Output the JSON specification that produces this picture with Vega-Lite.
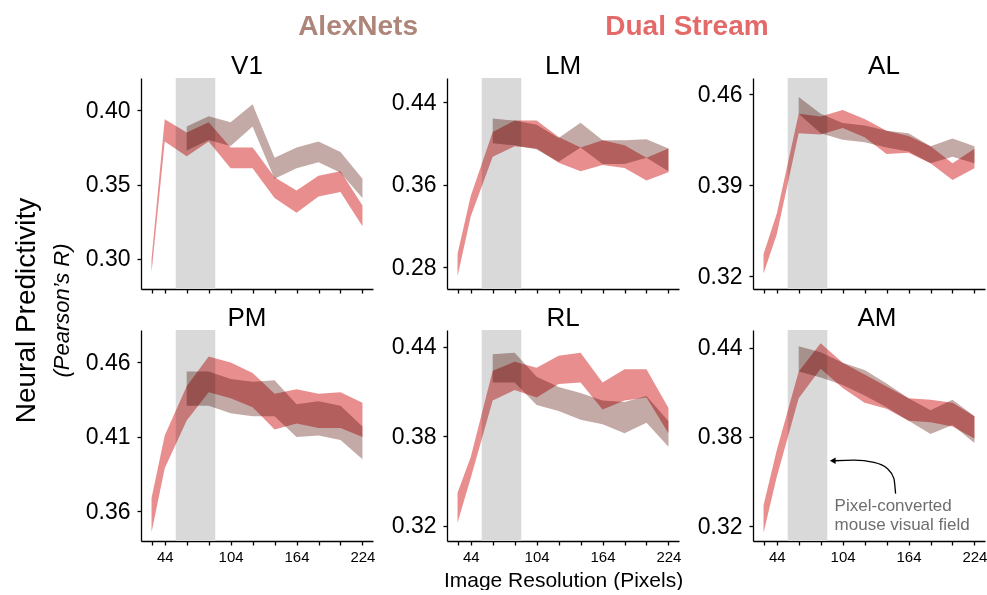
{
"$schema": "https://vega.github.io/schema/vega-lite/v6.json",
"background": "white",
"padding": {"left": 13, "top": 13, "right": 0, "bottom": 0},
"config": {
  "font": "Liberation Sans",
  "view": {"stroke": null},
  "axis": {"domainColor": "#000", "tickColor": "#000", "labelColor": "#000", "titleColor": "#000", "domainWidth": 1.3, "tickWidth": 1.3, "grid": false, "labelFont": "Liberation Sans", "titleFont": "Liberation Sans", "titleFontWeight": "normal", "labelFlush": false, "labelOverlap": false},
  "title": {"fontSize": 26, "fontWeight": "normal", "color": "#000", "baseline": "alphabetic", "offset": -1, "font": "Liberation Sans"}
},
"datasets": {
  "models": [{"model": "AlexNets"}, {"model": "Dual Stream"}],
  "field": [{"start": 54, "end": 90}],
  "arrow": [
    {"i": 0, "x": 152.2, "y": 0.3419},
    {"i": 1, "x": 150.7, "y": 0.352},
    {"i": 2, "x": 144.6, "y": 0.3588},
    {"i": 3, "x": 132.5, "y": 0.3629},
    {"i": 4, "x": 114.3, "y": 0.3644},
    {"i": 5, "x": 96.5, "y": 0.364}
  ],
  "arrowhead": [{"x": 95.0, "y": 0.364}],
  "note": [
    {"text": "Pixel-converted", "x": 96.7, "y": 0.3335},
    {"text": "mouse visual field", "x": 96.7, "y": 0.3205}
  ],
  "bands": [
    {"area": "V1", "model": "Dual Stream", "res": 32, "lo": 0.291, "hi": 0.300},
    {"area": "V1", "model": "Dual Stream", "res": 44, "lo": 0.379, "hi": 0.394},
    {"area": "V1", "model": "Dual Stream", "res": 64, "lo": 0.369, "hi": 0.385},
    {"area": "V1", "model": "Dual Stream", "res": 84, "lo": 0.379, "hi": 0.392},
    {"area": "V1", "model": "Dual Stream", "res": 104, "lo": 0.361, "hi": 0.375},
    {"area": "V1", "model": "Dual Stream", "res": 124, "lo": 0.361, "hi": 0.375},
    {"area": "V1", "model": "Dual Stream", "res": 144, "lo": 0.341, "hi": 0.355},
    {"area": "V1", "model": "Dual Stream", "res": 164, "lo": 0.331, "hi": 0.346},
    {"area": "V1", "model": "Dual Stream", "res": 184, "lo": 0.342, "hi": 0.356},
    {"area": "V1", "model": "Dual Stream", "res": 204, "lo": 0.345, "hi": 0.359},
    {"area": "V1", "model": "Dual Stream", "res": 224, "lo": 0.322, "hi": 0.336},
    {"area": "V1", "model": "AlexNets", "res": 64, "lo": 0.373, "hi": 0.389},
    {"area": "V1", "model": "AlexNets", "res": 84, "lo": 0.380, "hi": 0.396},
    {"area": "V1", "model": "AlexNets", "res": 104, "lo": 0.376, "hi": 0.392},
    {"area": "V1", "model": "AlexNets", "res": 124, "lo": 0.389, "hi": 0.404},
    {"area": "V1", "model": "AlexNets", "res": 144, "lo": 0.354, "hi": 0.368},
    {"area": "V1", "model": "AlexNets", "res": 164, "lo": 0.361, "hi": 0.375},
    {"area": "V1", "model": "AlexNets", "res": 184, "lo": 0.365, "hi": 0.379},
    {"area": "V1", "model": "AlexNets", "res": 204, "lo": 0.358, "hi": 0.372},
    {"area": "V1", "model": "AlexNets", "res": 224, "lo": 0.341, "hi": 0.354},

    {"area": "LM", "model": "Dual Stream", "res": 32, "lo": 0.271, "hi": 0.293},
    {"area": "LM", "model": "Dual Stream", "res": 44, "lo": 0.329, "hi": 0.349},
    {"area": "LM", "model": "Dual Stream", "res": 64, "lo": 0.387, "hi": 0.411},
    {"area": "LM", "model": "Dual Stream", "res": 84, "lo": 0.397, "hi": 0.422},
    {"area": "LM", "model": "Dual Stream", "res": 104, "lo": 0.395, "hi": 0.422},
    {"area": "LM", "model": "Dual Stream", "res": 124, "lo": 0.381, "hi": 0.406},
    {"area": "LM", "model": "Dual Stream", "res": 144, "lo": 0.373, "hi": 0.396},
    {"area": "LM", "model": "Dual Stream", "res": 164, "lo": 0.379, "hi": 0.403},
    {"area": "LM", "model": "Dual Stream", "res": 184, "lo": 0.376, "hi": 0.398},
    {"area": "LM", "model": "Dual Stream", "res": 204, "lo": 0.364, "hi": 0.386},
    {"area": "LM", "model": "Dual Stream", "res": 224, "lo": 0.372, "hi": 0.395},
    {"area": "LM", "model": "AlexNets", "res": 64, "lo": 0.400, "hi": 0.424},
    {"area": "LM", "model": "AlexNets", "res": 84, "lo": 0.398, "hi": 0.422},
    {"area": "LM", "model": "AlexNets", "res": 104, "lo": 0.394, "hi": 0.418},
    {"area": "LM", "model": "AlexNets", "res": 124, "lo": 0.382, "hi": 0.405},
    {"area": "LM", "model": "AlexNets", "res": 144, "lo": 0.396, "hi": 0.420},
    {"area": "LM", "model": "AlexNets", "res": 164, "lo": 0.380, "hi": 0.403},
    {"area": "LM", "model": "AlexNets", "res": 184, "lo": 0.380, "hi": 0.403},
    {"area": "LM", "model": "AlexNets", "res": 204, "lo": 0.386, "hi": 0.404},
    {"area": "LM", "model": "AlexNets", "res": 224, "lo": 0.373, "hi": 0.395},

    {"area": "AL", "model": "Dual Stream", "res": 32, "lo": 0.322, "hi": 0.337},
    {"area": "AL", "model": "Dual Stream", "res": 44, "lo": 0.352, "hi": 0.368},
    {"area": "AL", "model": "Dual Stream", "res": 64, "lo": 0.430, "hi": 0.445},
    {"area": "AL", "model": "Dual Stream", "res": 84, "lo": 0.429, "hi": 0.443},
    {"area": "AL", "model": "Dual Stream", "res": 104, "lo": 0.434, "hi": 0.448},
    {"area": "AL", "model": "Dual Stream", "res": 124, "lo": 0.427, "hi": 0.441},
    {"area": "AL", "model": "Dual Stream", "res": 144, "lo": 0.414, "hi": 0.432},
    {"area": "AL", "model": "Dual Stream", "res": 164, "lo": 0.415, "hi": 0.428},
    {"area": "AL", "model": "Dual Stream", "res": 184, "lo": 0.407, "hi": 0.420},
    {"area": "AL", "model": "Dual Stream", "res": 204, "lo": 0.394, "hi": 0.407},
    {"area": "AL", "model": "Dual Stream", "res": 224, "lo": 0.403, "hi": 0.418},
    {"area": "AL", "model": "AlexNets", "res": 64, "lo": 0.445, "hi": 0.458},
    {"area": "AL", "model": "AlexNets", "res": 84, "lo": 0.430, "hi": 0.445},
    {"area": "AL", "model": "AlexNets", "res": 104, "lo": 0.425, "hi": 0.438},
    {"area": "AL", "model": "AlexNets", "res": 124, "lo": 0.423, "hi": 0.436},
    {"area": "AL", "model": "AlexNets", "res": 144, "lo": 0.419, "hi": 0.432},
    {"area": "AL", "model": "AlexNets", "res": 164, "lo": 0.416, "hi": 0.430},
    {"area": "AL", "model": "AlexNets", "res": 184, "lo": 0.407, "hi": 0.420},
    {"area": "AL", "model": "AlexNets", "res": 204, "lo": 0.412, "hi": 0.426},
    {"area": "AL", "model": "AlexNets", "res": 224, "lo": 0.407, "hi": 0.420},

    {"area": "PM", "model": "Dual Stream", "res": 32, "lo": 0.346, "hi": 0.369},
    {"area": "PM", "model": "Dual Stream", "res": 44, "lo": 0.389, "hi": 0.411},
    {"area": "PM", "model": "Dual Stream", "res": 64, "lo": 0.421, "hi": 0.444},
    {"area": "PM", "model": "Dual Stream", "res": 84, "lo": 0.440, "hi": 0.464},
    {"area": "PM", "model": "Dual Stream", "res": 104, "lo": 0.436, "hi": 0.460},
    {"area": "PM", "model": "Dual Stream", "res": 124, "lo": 0.430, "hi": 0.453},
    {"area": "PM", "model": "Dual Stream", "res": 144, "lo": 0.415, "hi": 0.439},
    {"area": "PM", "model": "Dual Stream", "res": 164, "lo": 0.419, "hi": 0.442},
    {"area": "PM", "model": "Dual Stream", "res": 184, "lo": 0.416, "hi": 0.439},
    {"area": "PM", "model": "Dual Stream", "res": 204, "lo": 0.416, "hi": 0.440},
    {"area": "PM", "model": "Dual Stream", "res": 224, "lo": 0.410, "hi": 0.433},
    {"area": "PM", "model": "AlexNets", "res": 64, "lo": 0.431, "hi": 0.454},
    {"area": "PM", "model": "AlexNets", "res": 84, "lo": 0.431, "hi": 0.454},
    {"area": "PM", "model": "AlexNets", "res": 104, "lo": 0.426, "hi": 0.449},
    {"area": "PM", "model": "AlexNets", "res": 124, "lo": 0.424, "hi": 0.447},
    {"area": "PM", "model": "AlexNets", "res": 144, "lo": 0.424, "hi": 0.448},
    {"area": "PM", "model": "AlexNets", "res": 164, "lo": 0.410, "hi": 0.432},
    {"area": "PM", "model": "AlexNets", "res": 184, "lo": 0.411, "hi": 0.434},
    {"area": "PM", "model": "AlexNets", "res": 204, "lo": 0.408, "hi": 0.431},
    {"area": "PM", "model": "AlexNets", "res": 224, "lo": 0.395, "hi": 0.417},

    {"area": "RL", "model": "Dual Stream", "res": 32, "lo": 0.322, "hi": 0.342},
    {"area": "RL", "model": "Dual Stream", "res": 44, "lo": 0.352, "hi": 0.366},
    {"area": "RL", "model": "Dual Stream", "res": 64, "lo": 0.404, "hi": 0.424},
    {"area": "RL", "model": "Dual Stream", "res": 84, "lo": 0.411, "hi": 0.430},
    {"area": "RL", "model": "Dual Stream", "res": 104, "lo": 0.406, "hi": 0.426},
    {"area": "RL", "model": "Dual Stream", "res": 124, "lo": 0.415, "hi": 0.434},
    {"area": "RL", "model": "Dual Stream", "res": 144, "lo": 0.416, "hi": 0.436},
    {"area": "RL", "model": "Dual Stream", "res": 164, "lo": 0.398, "hi": 0.416},
    {"area": "RL", "model": "Dual Stream", "res": 184, "lo": 0.404, "hi": 0.425},
    {"area": "RL", "model": "Dual Stream", "res": 204, "lo": 0.406, "hi": 0.425},
    {"area": "RL", "model": "Dual Stream", "res": 224, "lo": 0.382, "hi": 0.399},
    {"area": "RL", "model": "AlexNets", "res": 64, "lo": 0.416, "hi": 0.435},
    {"area": "RL", "model": "AlexNets", "res": 84, "lo": 0.416, "hi": 0.436},
    {"area": "RL", "model": "AlexNets", "res": 104, "lo": 0.401, "hi": 0.420},
    {"area": "RL", "model": "AlexNets", "res": 124, "lo": 0.397, "hi": 0.413},
    {"area": "RL", "model": "AlexNets", "res": 144, "lo": 0.391, "hi": 0.409},
    {"area": "RL", "model": "AlexNets", "res": 164, "lo": 0.388, "hi": 0.404},
    {"area": "RL", "model": "AlexNets", "res": 184, "lo": 0.382, "hi": 0.403},
    {"area": "RL", "model": "AlexNets", "res": 204, "lo": 0.389, "hi": 0.407},
    {"area": "RL", "model": "AlexNets", "res": 224, "lo": 0.373, "hi": 0.390},

    {"area": "AM", "model": "Dual Stream", "res": 32, "lo": 0.3155, "hi": 0.334},
    {"area": "AM", "model": "Dual Stream", "res": 44, "lo": 0.353, "hi": 0.371},
    {"area": "AM", "model": "Dual Stream", "res": 64, "lo": 0.406, "hi": 0.424},
    {"area": "AM", "model": "Dual Stream", "res": 84, "lo": 0.426, "hi": 0.443},
    {"area": "AM", "model": "Dual Stream", "res": 104, "lo": 0.413, "hi": 0.430},
    {"area": "AM", "model": "Dual Stream", "res": 124, "lo": 0.403, "hi": 0.422},
    {"area": "AM", "model": "Dual Stream", "res": 144, "lo": 0.399, "hi": 0.414},
    {"area": "AM", "model": "Dual Stream", "res": 164, "lo": 0.391, "hi": 0.406},
    {"area": "AM", "model": "Dual Stream", "res": 184, "lo": 0.390, "hi": 0.405},
    {"area": "AM", "model": "Dual Stream", "res": 204, "lo": 0.387, "hi": 0.403},
    {"area": "AM", "model": "Dual Stream", "res": 224, "lo": 0.379, "hi": 0.394},
    {"area": "AM", "model": "AlexNets", "res": 64, "lo": 0.424, "hi": 0.441},
    {"area": "AM", "model": "AlexNets", "res": 84, "lo": 0.420, "hi": 0.437},
    {"area": "AM", "model": "AlexNets", "res": 104, "lo": 0.415, "hi": 0.430},
    {"area": "AM", "model": "AlexNets", "res": 124, "lo": 0.408, "hi": 0.425},
    {"area": "AM", "model": "AlexNets", "res": 144, "lo": 0.400, "hi": 0.416},
    {"area": "AM", "model": "AlexNets", "res": 164, "lo": 0.391, "hi": 0.406},
    {"area": "AM", "model": "AlexNets", "res": 184, "lo": 0.382, "hi": 0.398},
    {"area": "AM", "model": "AlexNets", "res": 204, "lo": 0.388, "hi": 0.405},
    {"area": "AM", "model": "AlexNets", "res": 224, "lo": 0.376, "hi": 0.394}
  ]
},
"title": {"text": "Neural Predictivity", "subtitle": "(Pearson’s R)", "orient": "left", "anchor": "middle", "fontSize": 28, "fontWeight": "normal", "color": "#000", "subtitleFontSize": 22, "subtitleFontStyle": "italic", "subtitleColor": "#000", "subtitlePadding": 5, "offset": -16, "dx": -9, "baseline": "bottom", "font": "Liberation Sans", "subtitleFont": "Liberation Sans"},
"spacing": 41,
"bounds": "flush",
"vconcat": [
  {
    "width": 763, "height": 20,
    "data": {"name": "models"},
    "mark": {"type": "text", "fontSize": 28, "fontWeight": "bold", "baseline": "middle", "font": "Liberation Sans"},
    "encoding": {
      "x": {"field": "model", "type": "nominal", "scale": {"type": "point", "padding": 0.66}, "axis": null},
      "text": {"field": "model"},
      "color": {"field": "model", "type": "nominal", "scale": {"domain": ["AlexNets", "Dual Stream"], "range": ["#ae8579", "#e46a6a"]}, "legend": null}
    }
  },
  {
    "columns": 3,
    "spacing": {"row": 41, "column": 74},
    "bounds": "flush",
    "concat": [
      {
        "width": 232, "height": 211,
        "title": {"text": "V1", "dx": -10},
        "layer": [
          {"data": {"name": "field"}, "mark": {"type": "rect", "color": "#d9d9d9"},
           "encoding": {"x": {"field": "start", "type": "quantitative", "scale": {"domain": [22.4, 233.6], "nice": false, "zero": false}, "axis": {"values": [32,44,64,84,104,124,144,164,184,204,224], "labels": false, "title": null, "tickSize": 4}}, "x2": {"field": "end"}}},
          {"data": {"name": "bands"}, "transform": [{"filter": "datum.area === 'V1'"}], "mark": {"type": "area", "blend": "multiply"},
           "encoding": {"x": {"field": "res", "type": "quantitative", "axis": {"values": [32,44,64,84,104,124,144,164,184,204,224], "labels": false, "title": null, "tickSize": 4}},
             "y": {"field": "lo", "type": "quantitative", "scale": {"domain": [0.2798, 0.4217], "nice": false, "zero": false}, "axis": {"values": [0.30, 0.35, 0.40], "format": ".2f", "labelFontSize": 23, "tickSize": 4, "labelPadding": 7, "title": null}},
             "y2": {"field": "hi"},
             "fill": {"field": "model", "type": "nominal", "scale": {"domain": ["AlexNets", "Dual Stream"], "range": ["#c4aaa6", "#e88e8e"]}, "legend": null}}}
        ]
      },
      {
        "width": 232, "height": 211,
        "title": {"text": "LM"},
        "layer": [
          {"data": {"name": "field"}, "mark": {"type": "rect", "color": "#d9d9d9"},
           "encoding": {"x": {"field": "start", "type": "quantitative", "scale": {"domain": [22.4, 233.6], "nice": false, "zero": false}, "axis": {"values": [32,44,64,84,104,124,144,164,184,204,224], "labels": false, "title": null, "tickSize": 4}}, "x2": {"field": "end"}}},
          {"data": {"name": "bands"}, "transform": [{"filter": "datum.area === 'LM'"}], "mark": {"type": "area", "blend": "multiply"},
           "encoding": {"x": {"field": "res", "type": "quantitative", "axis": {"values": [32,44,64,84,104,124,144,164,184,204,224], "labels": false, "title": null, "tickSize": 4}},
             "y": {"field": "lo", "type": "quantitative", "scale": {"domain": [0.2587, 0.4633], "nice": false, "zero": false}, "axis": {"values": [0.28, 0.36, 0.44], "format": ".2f", "labelFontSize": 23, "tickSize": 4, "labelPadding": 7, "title": null}},
             "y2": {"field": "hi"},
             "fill": {"field": "model", "type": "nominal", "scale": {"domain": ["AlexNets", "Dual Stream"], "range": ["#c4aaa6", "#e88e8e"]}, "legend": null}}}
        ]
      },
      {
        "width": 232, "height": 211,
        "title": {"text": "AL", "dx": 15},
        "layer": [
          {"data": {"name": "field"}, "mark": {"type": "rect", "color": "#d9d9d9"},
           "encoding": {"x": {"field": "start", "type": "quantitative", "scale": {"domain": [22.4, 233.6], "nice": false, "zero": false}, "axis": {"values": [32,44,64,84,104,124,144,164,184,204,224], "labels": false, "title": null, "tickSize": 4}}, "x2": {"field": "end"}}},
          {"data": {"name": "bands"}, "transform": [{"filter": "datum.area === 'AL'"}], "mark": {"type": "area", "blend": "multiply"},
           "encoding": {"x": {"field": "res", "type": "quantitative", "axis": {"values": [32,44,64,84,104,124,144,164,184,204,224], "labels": false, "title": null, "tickSize": 4}},
             "y": {"field": "lo", "type": "quantitative", "scale": {"domain": [0.31, 0.4726], "nice": false, "zero": false}, "axis": {"values": [0.32, 0.39, 0.46], "format": ".2f", "labelFontSize": 23, "tickSize": 4, "labelPadding": 7, "title": null}},
             "y2": {"field": "hi"},
             "fill": {"field": "model", "type": "nominal", "scale": {"domain": ["AlexNets", "Dual Stream"], "range": ["#c4aaa6", "#e88e8e"]}, "legend": null}}}
        ]
      },
      {
        "width": 232, "height": 211,
        "title": {"text": "PM", "dx": -10},
        "layer": [
          {"data": {"name": "field"}, "mark": {"type": "rect", "color": "#d9d9d9"},
           "encoding": {"x": {"field": "start", "type": "quantitative", "scale": {"domain": [22.4, 233.6], "nice": false, "zero": false}, "axis": {"values": [32,44,64,84,104,124,144,164,184,204,224], "labelExpr": "indexof([44,104,164,224], datum.value) >= 0 ? datum.label : ''", "labelFontSize": 15, "labelPadding": 4, "title": null, "tickSize": 4}}, "x2": {"field": "end"}}},
          {"data": {"name": "bands"}, "transform": [{"filter": "datum.area === 'PM'"}], "mark": {"type": "area", "blend": "multiply"},
           "encoding": {"x": {"field": "res", "type": "quantitative", "axis": {"values": [32,44,64,84,104,124,144,164,184,204,224], "labelExpr": "indexof([44,104,164,224], datum.value) >= 0 ? datum.label : ''", "labelFontSize": 15, "labelPadding": 4, "title": null, "tickSize": 4}},
             "y": {"field": "lo", "type": "quantitative", "scale": {"domain": [0.3402, 0.4818], "nice": false, "zero": false}, "axis": {"values": [0.36, 0.41, 0.46], "format": ".2f", "labelFontSize": 23, "tickSize": 4, "labelPadding": 7, "title": null}},
             "y2": {"field": "hi"},
             "fill": {"field": "model", "type": "nominal", "scale": {"domain": ["AlexNets", "Dual Stream"], "range": ["#c4aaa6", "#e88e8e"]}, "legend": null}}}
        ]
      },
      {
        "width": 232, "height": 211,
        "title": {"text": "RL"},
        "layer": [
          {"data": {"name": "field"}, "mark": {"type": "rect", "color": "#d9d9d9"},
           "encoding": {"x": {"field": "start", "type": "quantitative", "scale": {"domain": [22.4, 233.6], "nice": false, "zero": false}, "axis": {"values": [32,44,64,84,104,124,144,164,184,204,224], "labelExpr": "indexof([44,104,164,224], datum.value) >= 0 ? datum.label : ''", "labelFontSize": 15, "labelPadding": 4, "title": "Image Resolution (Pixels)", "titleFontSize": 21, "titlePadding": 5, "tickSize": 4}}, "x2": {"field": "end"}}},
          {"data": {"name": "bands"}, "transform": [{"filter": "datum.area === 'RL'"}], "mark": {"type": "area", "blend": "multiply"},
           "encoding": {"x": {"field": "res", "type": "quantitative", "axis": {"values": [32,44,64,84,104,124,144,164,184,204,224], "labelExpr": "indexof([44,104,164,224], datum.value) >= 0 ? datum.label : ''", "labelFontSize": 15, "labelPadding": 4, "title": "Image Resolution (Pixels)", "titleFontSize": 21, "titlePadding": 5, "tickSize": 4}},
             "y": {"field": "lo", "type": "quantitative", "scale": {"domain": [0.3097, 0.4513], "nice": false, "zero": false}, "axis": {"values": [0.32, 0.38, 0.44], "format": ".2f", "labelFontSize": 23, "tickSize": 4, "labelPadding": 7, "title": null}},
             "y2": {"field": "hi"},
             "fill": {"field": "model", "type": "nominal", "scale": {"domain": ["AlexNets", "Dual Stream"], "range": ["#c4aaa6", "#e88e8e"]}, "legend": null}}}
        ]
      },
      {
        "width": 232, "height": 211,
        "title": {"text": "AM", "dx": 8},
        "layer": [
          {"data": {"name": "field"}, "mark": {"type": "rect", "color": "#d9d9d9"},
           "encoding": {"x": {"field": "start", "type": "quantitative", "scale": {"domain": [22.4, 233.6], "nice": false, "zero": false}, "axis": {"values": [32,44,64,84,104,124,144,164,184,204,224], "labelExpr": "indexof([44,104,164,224], datum.value) >= 0 ? datum.label : ''", "labelFontSize": 15, "labelPadding": 4, "title": null, "tickSize": 4}}, "x2": {"field": "end"}}},
          {"data": {"name": "bands"}, "transform": [{"filter": "datum.area === 'AM'"}], "mark": {"type": "area", "blend": "multiply"},
           "encoding": {"x": {"field": "res", "type": "quantitative", "axis": {"values": [32,44,64,84,104,124,144,164,184,204,224], "labelExpr": "indexof([44,104,164,224], datum.value) >= 0 ? datum.label : ''", "labelFontSize": 15, "labelPadding": 4, "title": null, "tickSize": 4}},
             "y": {"field": "lo", "type": "quantitative", "scale": {"domain": [0.31, 0.452], "nice": false, "zero": false}, "axis": {"values": [0.32, 0.38, 0.44], "format": ".2f", "labelFontSize": 23, "tickSize": 4, "labelPadding": 7, "title": null}},
             "y2": {"field": "hi"},
             "fill": {"field": "model", "type": "nominal", "scale": {"domain": ["AlexNets", "Dual Stream"], "range": ["#c4aaa6", "#e88e8e"]}, "legend": null}}},
          {"data": {"name": "arrow"}, "mark": {"type": "line", "color": "#000", "strokeWidth": 1.3, "interpolate": "monotone"},
           "encoding": {"x": {"field": "x", "type": "quantitative", "axis": {"values": [32,44,64,84,104,124,144,164,184,204,224], "labelExpr": "indexof([44,104,164,224], datum.value) >= 0 ? datum.label : ''", "labelFontSize": 15, "labelPadding": 4, "title": null, "tickSize": 4}},
             "y": {"field": "y", "type": "quantitative", "axis": {"values": [0.32, 0.38, 0.44], "format": ".2f", "labelFontSize": 23, "tickSize": 4, "labelPadding": 7, "title": null}},
             "order": {"field": "i"}}},
          {"data": {"name": "arrowhead"}, "mark": {"type": "point", "shape": "triangle-left", "filled": true, "color": "#000", "size": 45, "opacity": 1},
           "encoding": {"x": {"field": "x", "type": "quantitative", "axis": {"values": [32,44,64,84,104,124,144,164,184,204,224], "labelExpr": "indexof([44,104,164,224], datum.value) >= 0 ? datum.label : ''", "labelFontSize": 15, "labelPadding": 4, "title": null, "tickSize": 4}},
             "y": {"field": "y", "type": "quantitative", "axis": {"values": [0.32, 0.38, 0.44], "format": ".2f", "labelFontSize": 23, "tickSize": 4, "labelPadding": 7, "title": null}}}},
          {"data": {"name": "note"}, "mark": {"type": "text", "align": "left", "baseline": "middle", "fontSize": 17, "color": "#6e6e6e", "font": "Liberation Sans"},
           "encoding": {"x": {"field": "x", "type": "quantitative", "axis": {"values": [32,44,64,84,104,124,144,164,184,204,224], "labelExpr": "indexof([44,104,164,224], datum.value) >= 0 ? datum.label : ''", "labelFontSize": 15, "labelPadding": 4, "title": null, "tickSize": 4}},
             "y": {"field": "y", "type": "quantitative", "axis": {"values": [0.32, 0.38, 0.44], "format": ".2f", "labelFontSize": 23, "tickSize": 4, "labelPadding": 7, "title": null}},
             "text": {"field": "text"}}}
        ]
      }
    ]
  }
]
}
